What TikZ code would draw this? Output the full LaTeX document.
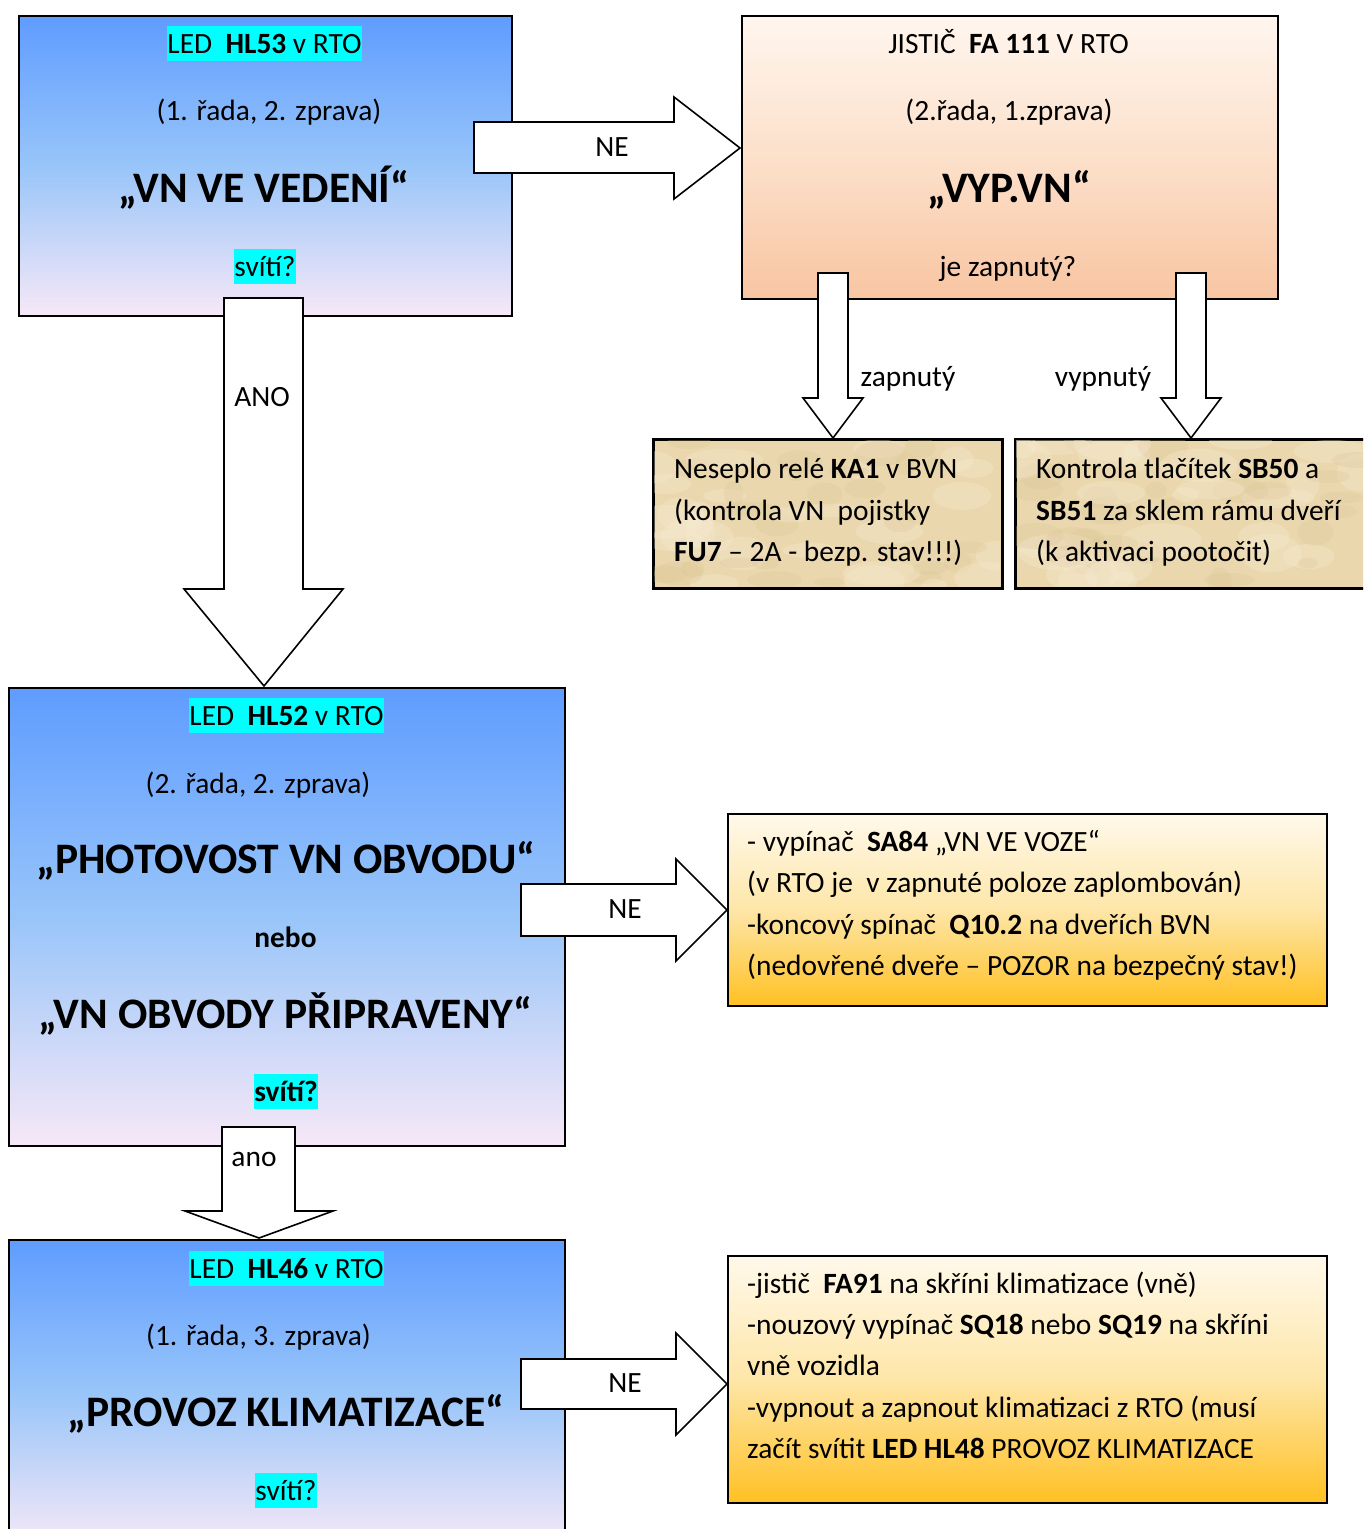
\documentclass[tikz,border=0pt]{standalone}
\usepackage{fontspec}
\setmainfont{Carlito}
\definecolor{bluetop}{RGB}{95,156,255}
\definecolor{bluemid}{RGB}{152,197,249}
\definecolor{bluebot}{RGB}{247,232,247}
\definecolor{peachtop}{RGB}{255,246,239}
\definecolor{peachmid}{RGB}{252,224,202}
\definecolor{peachbot}{RGB}{248,197,162}
\definecolor{orgtop}{RGB}{255,249,235}
\definecolor{orgmid}{RGB}{254,230,168}
\definecolor{orgbot}{RGB}{255,192,34}
\definecolor{parch}{RGB}{234,215,174}
\definecolor{parchlight}{RGB}{246,234,208}
\definecolor{parchdark}{RGB}{220,197,150}
\definecolor{hlcyan}{RGB}{0,255,255}
\begin{document}
\begin{tikzpicture}[x=1pt,y=-1pt,
  txt/.style={font=\fontsize{29.4}{35}\selectfont, inner sep=0pt, anchor=base},
  ltxt/.style={txt, anchor=base west},
  bigtxt/.style={font=\fontsize{43.5}{50}\selectfont\bfseries, inner sep=0pt, anchor=base},
  hl/.style={txt, fill=hlcyan, text height=27.5pt, text depth=8pt},
  boxbase/.style={draw=black, line width=2pt, inner sep=0pt, anchor=north west},
  bluebox/.style={boxbase, top color=bluetop, bottom color=bluebot, middle color=bluemid},
  peachbox/.style={boxbase, top color=peachtop, bottom color=peachbot, middle color=peachmid},
  orgbox/.style={boxbase, top color=orgtop, bottom color=orgbot, middle color=orgmid},
  parchbox/.style={boxbase, fill=parch},
  blockarrow/.style={draw=black, fill=white, line width=1.6pt, line join=miter},
]
\useasboundingbox (0,0) rectangle (1363,1529);
\clip (0,0) rectangle (1363,1529);

% ---------- boxes ----------
\node[bluebox, minimum width=493pt, minimum height=300pt] (b1) at (18,15) {};
\node[peachbox, minimum width=536pt, minimum height=283pt] (b2) at (741,15) {};
\node[parchbox, minimum width=348pt, minimum height=148pt] (b3) at (653,439) {};
\node[parchbox, minimum width=352pt, minimum height=148pt] (b4) at (1015,439) {};
\node[bluebox, minimum width=556pt, minimum height=458pt] (b5) at (8,687) {};
\node[orgbox, minimum width=599pt, minimum height=192pt] (b6) at (727,813) {};
\node[bluebox, minimum width=556pt, minimum height=306pt] (b7) at (8,1239) {};
\node[orgbox, minimum width=599pt, minimum height=247pt] (b8) at (727,1255) {};

% parchment mottling
\pgfmathsetseed{7}
\foreach \bx/\by/\bw in {653/439/348, 1015/439/352}{
  \begin{scope}
    \clip (\bx+1,\by+1) rectangle (\bx+\bw-1,\by+147);
    \foreach \i in {1,...,26}{
      \pgfmathsetmacro{\cx}{\bx+rnd*\bw}
      \pgfmathsetmacro{\cy}{\by+rnd*148}
      \pgfmathsetmacro{\rx}{12+rnd*30}
      \pgfmathsetmacro{\ry}{6+rnd*14}
      \fill[parchlight, opacity=0.35] (\cx,\cy) ellipse [x radius=\rx, y radius=\ry];
      \pgfmathsetmacro{\dx}{\bx+rnd*\bw}
      \pgfmathsetmacro{\dy}{\by+rnd*148}
      \fill[parchdark, opacity=0.25] (\dx,\dy) ellipse [x radius=\rx*0.7, y radius=\ry*0.7];
    }
  \end{scope}
}
\draw[line width=2pt] (b3.north west) rectangle (b3.south east);
\draw[line width=2pt] (b4.north west) rectangle (b4.south east);

% ---------- box 1 texts ----------
\node[hl] (t1a) at (264.5,53) {LED~~\textbf{HL53} v RTO};
\node[txt] (t1b) at (269,120) {(1. řada, 2. zprava)};
\node[bigtxt] (t1c) at (264,202) {„VN VE VEDENÍ“};
\node[hl] (t1d) at (265,276) {svítí?};

% ---------- box 2 texts ----------
\node[txt] (t2a) at (1008.5,53) {JISTIČ~~\textbf{FA 111} V RTO};
\node[txt] (t2b) at (1009,120) {(2.řada, 1.zprava)};
\node[bigtxt] (t2c) at (1009,202) {„VYP.VN“};
\node[txt] (t2d) at (1008,276) {je zapnutý?};

% ---------- box 3 / 4 texts ----------
\node[ltxt] (t3a) at (674,478) {Neseplo relé \textbf{KA1} v BVN};
\node[ltxt] (t3b) at (674,520) {(kontrola VN~~pojistky};
\node[ltxt] (t3c) at (674,561) {\textbf{FU7} – 2A - bezp. stav!!!)};
\node[ltxt] (t4a) at (1036,478) {Kontrola tlačítek \textbf{SB50} a};
\node[ltxt] (t4b) at (1036,520) {\textbf{SB51} za sklem rámu dveří};
\node[ltxt] (t4c) at (1036,561) {(k aktivaci pootočit)};

% ---------- box 5 texts ----------
\node[hl] (t5a) at (286.5,725) {LED~~\textbf{HL52} v RTO};
\node[txt] (t5b) at (258,793) {(2. řada, 2. zprava)};
\node[bigtxt] (t5c) at (286,873) {„PHOTOVOST VN OBVODU“};
\node[txt, font=\fontsize{29.4}{35}\selectfont\bfseries] (t5d) at (285.5,947) {nebo};
\node[bigtxt] (t5e) at (285.5,1028) {„VN OBVODY PŘIPRAVENY“};
\node[hl, font=\fontsize{29.4}{35}\selectfont\bfseries] (t5f) at (286,1101) {svítí?};

% ---------- box 6 texts ----------
\node[ltxt] (t6a) at (747,851) {- vypínač~~\textbf{SA84} „VN VE VOZE“};
\node[ltxt] (t6b) at (747,892) {(v RTO je~~v zapnuté poloze zaplombován)};
\node[ltxt] (t6c) at (747,934) {-koncový spínač~~\textbf{Q10.2} na dveřích BVN};
\node[ltxt] (t6d) at (747,975) {(nedovřené dveře – POZOR na bezpečný stav!)};

% ---------- box 7 texts ----------
\node[hl] (t7a) at (286.5,1278) {LED~~\textbf{HL46} v RTO};
\node[txt] (t7b) at (258.5,1345) {(1. řada, 3. zprava)};
\node[bigtxt] (t7c) at (286,1426) {„PROVOZ KLIMATIZACE“};
\node[hl] (t7d) at (286,1500) {svítí?};

% ---------- box 8 texts ----------
\node[ltxt] (t8a) at (747,1293) {-jistič~~\textbf{FA91} na skříni klimatizace (vně)};
\node[ltxt] (t8b) at (747,1334) {-nouzový vypínač \textbf{SQ18} nebo \textbf{SQ19} na skříni};
\node[ltxt] (t8c) at (747,1375) {vně vozidla};
\node[ltxt] (t8d) at (747,1417) {-vypnout a zapnout klimatizaci z RTO (musí};
\node[ltxt] (t8e) at (747,1458) {začít svítit \textbf{LED HL48} PROVOZ KLIMATIZACE};

% ---------- block arrows ----------
% b1 -> b2 (NE)
\draw[blockarrow] (474,122) -- (674,122) -- (674,97) -- (740,148) -- (674,199) -- (674,173) -- (474,173) -- cycle;
\node[txt] (lne1) at (612,156) {NE};
% b2 -> b3 (zapnuty)
\draw[blockarrow] (818,273) -- (848,273) -- (848,398) -- (863,398) -- (833,438) -- (803,398) -- (818,398) -- cycle;
\node[txt] (lzap) at (908,386) {zapnutý};
% b2 -> b4 (vypnuty)
\draw[blockarrow] (1176,273) -- (1206,273) -- (1206,398) -- (1221,398) -- (1191,438) -- (1161,398) -- (1176,398) -- cycle;
\node[txt] (lvyp) at (1103,386) {vypnutý};
% b1 -> b5 (ANO)
\draw[blockarrow] (224,298) -- (303,298) -- (303,589) -- (343,589) -- (264,686) -- (184,589) -- (224,589) -- cycle;
\node[txt] (lano1) at (262,406) {ANO};
% b5 -> b6 (NE)
\draw[blockarrow] (521,884) -- (676,884) -- (676,859) -- (727,910) -- (676,961) -- (676,936) -- (521,936) -- cycle;
\node[txt] (lne2) at (625,918) {NE};
% b5 -> b7 (ano)
\draw[blockarrow] (222,1127) -- (295,1127) -- (295,1211) -- (333,1211) -- (259,1238) -- (185,1211) -- (222,1211) -- cycle;
\node[txt] (lano2) at (254,1166) {ano};
% b7 -> b8 (NE)
\draw[blockarrow] (521,1359) -- (676,1359) -- (676,1333) -- (727,1384) -- (676,1435) -- (676,1409) -- (521,1409) -- cycle;
\node[txt] (lne3) at (625,1392) {NE};
\end{tikzpicture}
\end{document}
